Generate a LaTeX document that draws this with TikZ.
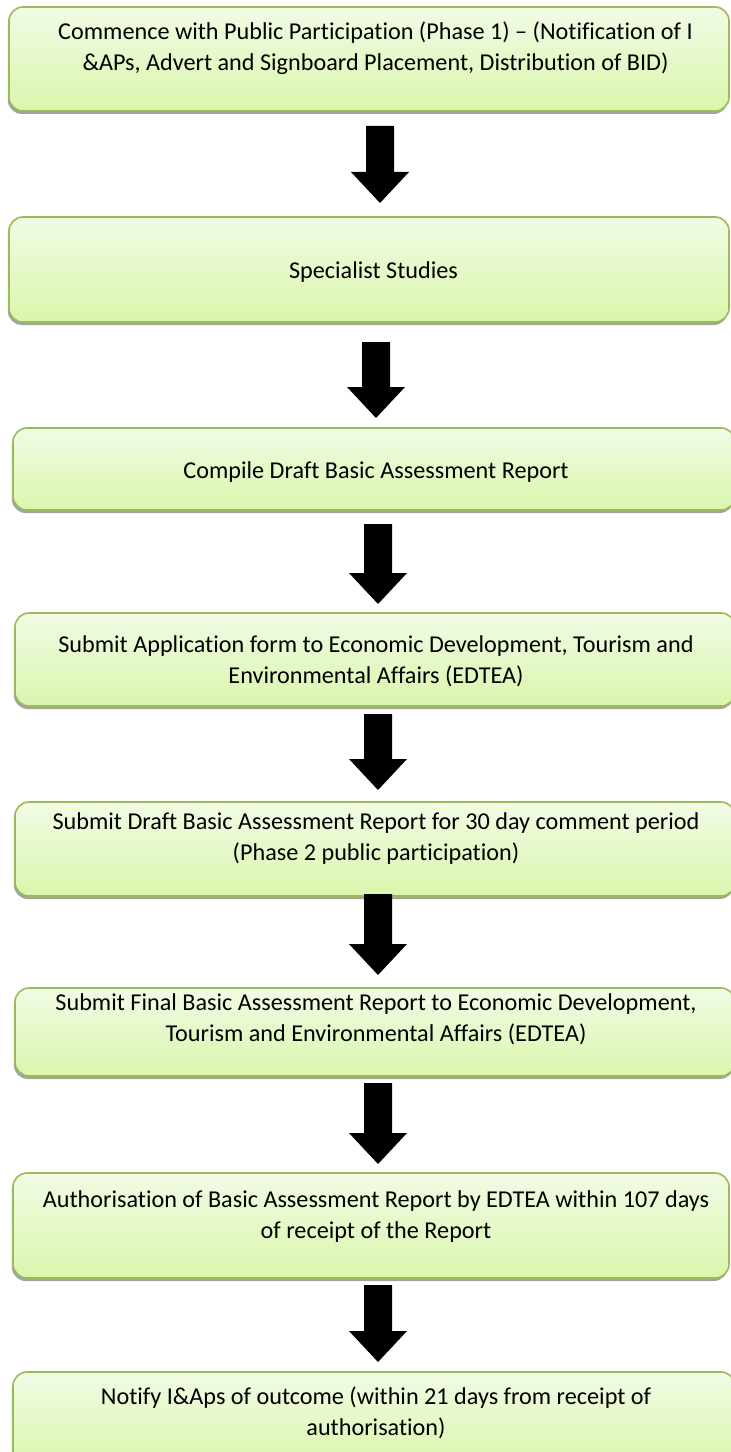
\documentclass[tikz,border=0pt]{standalone}
\usepackage{fontspec}
\setmainfont{Carlito}[Ligatures=NoCommon]
\usetikzlibrary{calc,shadows}

\definecolor{boxline}{RGB}{155,187,89}
\definecolor{boxtop}{RGB}{241,251,229}
\definecolor{boxbottom}{RGB}{218,246,172}

% block arrow pointing down: #1 = top of the shaft, #2 = tip
\newcommand\flowarrow[2]{%
  \fill[black] ($(#1)+(-14,0)$) -- ($(#1)+(14,0)$) -- ($(#2)+(14,-31)$)
    -- ($(#2)+(29,-31)$) -- (#2) -- ($(#2)+(-29,-31)$) -- ($(#2)+(-14,-31)$) -- cycle;}

\tikzset{
  flowbox/.style={draw=boxline, line width=1.6bp, rounded corners=14bp,
    top color=boxtop, bottom color=boxbottom, inner sep=0pt,
    drop shadow={shadow xshift=-1.2bp, shadow yshift=-3bp, fill=black!45, opacity=0.8}},
  flowtext/.style={align=center, font=\fontsize{24.2bp}{31bp}\selectfont, inner sep=0pt}
}

\begin{document}
\begin{tikzpicture}[x=1bp, y=-1bp]
\useasboundingbox (0,0) rectangle (730,1452);

% process steps
\node[flowbox, minimum width=720bp, minimum height=104bp] (b1) at (369,59) {};
\node[flowbox, minimum width=720bp, minimum height=105bp] (b2) at (369,269.5) {};
\node[flowbox, minimum width=722bp, minimum height=82bp]  (b3) at (374,469) {};
\node[flowbox, minimum width=720bp, minimum height=93bp]  (b4) at (375,659.5) {};
\node[flowbox, minimum width=720bp, minimum height=94bp]  (b5) at (375,849) {};
\node[flowbox, minimum width=720bp, minimum height=88bp]  (b6) at (375,1032) {};
\node[flowbox, minimum width=716bp, minimum height=105bp] (b7) at (371,1225.5) {};
\node[flowbox, minimum width=722bp, minimum height=94bp]  (b8) at (374,1419) {};

% labels
\node[flowtext] (l1) at (375.5,48.5) {Commence with Public Participation (Phase 1) – (Notification of I\\\&APs, Advert and Signboard Placement, Distribution of BID)};
\node[flowtext] (l2) at (373.5,272) {Specialist Studies};
\node[flowtext] (l3) at (376,472) {Compile Draft Basic Assessment Report};
\node[flowtext] (l4) at (376,661.5) {Submit Application form to Economic Development, Tourism and\\Environmental Affairs (EDTEA)};
\node[flowtext] (l5) at (376,838.5) {Submit Draft Basic Assessment Report for 30 day comment period\\(Phase 2 public participation)};
\node[flowtext] (l6) at (376,1019) {Submit Final Basic Assessment Report to Economic Development,\\Tourism and Environmental Affairs (EDTEA)};
\node[flowtext] (l7) at (376,1216.5) {Authorisation of Basic Assessment Report by EDTEA within 107 days\\of receipt of the Report};
\node[flowtext] (l8) at (376,1413) {Notify I\&Aps of outcome (within 21 days from receipt of\\authorisation)};

% arrows between the steps
\coordinate (a1s) at (380,126);  \coordinate (a1t) at (380,203);
\coordinate (a2s) at (376,342);  \coordinate (a2t) at (376,418);
\coordinate (a3s) at (378,524);  \coordinate (a3t) at (378,604);
\coordinate (a4s) at (378,714);  \coordinate (a4t) at (378,790);
\coordinate (a5s) at (378,894);  \coordinate (a5t) at (378,975);
\coordinate (a6s) at (378,1083); \coordinate (a6t) at (378,1164);
\coordinate (a7s) at (378,1285); \coordinate (a7t) at (378,1362);
\flowarrow{a1s}{a1t}
\flowarrow{a2s}{a2t}
\flowarrow{a3s}{a3t}
\flowarrow{a4s}{a4t}
\flowarrow{a5s}{a5t}
\flowarrow{a6s}{a6t}
\flowarrow{a7s}{a7t}
\end{tikzpicture}
\end{document}
